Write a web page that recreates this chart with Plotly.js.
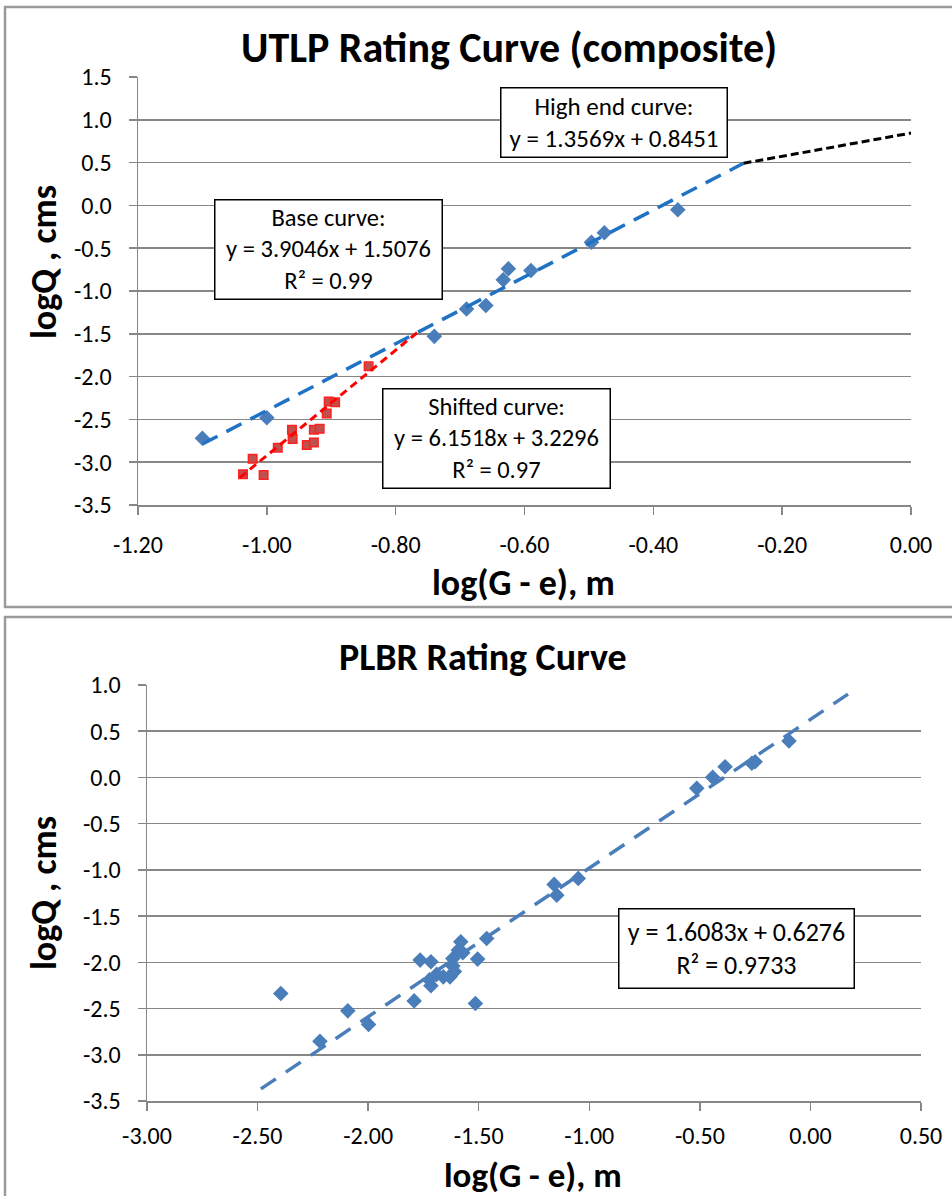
<!DOCTYPE html>
<html>
<head>
<meta charset="utf-8">
<script src="https://cdn.plot.ly/plotly-3.0.1.min.js"></script>
<style>
  html, body { margin: 0; padding: 0; background: #ffffff; }
  #chart { width: 952px; height: 1196px; }
</style>
</head>
<body>
<div id="chart"></div>
<script>
// ---------- UTLP (top chart) ----------
const utlpBaseX  = [-1.10, -1.00, -0.74, -0.69, -0.66, -0.633, -0.625, -0.59, -0.496, -0.476, -0.362];
const utlpBaseY  = [-2.72, -2.48, -1.53, -1.21, -1.17, -0.87, -0.74, -0.76, -0.43, -0.32, -0.05];
const utlpShiftX = [-1.037, -1.022, -1.005, -0.983, -0.961, -0.960, -0.938, -0.927, -0.927, -0.918, -0.907, -0.904, -0.894, -0.842];
const utlpShiftY = [-3.14, -2.96, -3.15, -2.83, -2.62, -2.73, -2.80, -2.77, -2.62, -2.61, -2.43, -2.29, -2.30, -1.88];

// trendline coefficients [slope, intercept] and drawn x-extent
const baseFit   = [3.9046, 1.5076];  const baseSpan  = [-1.10, -0.26];
const shiftFit  = [6.1518, 3.2296];  const shiftSpan = [-1.042, -0.765];
const highFit   = [1.3569, 0.8451];  const highSpan  = [-0.26, 0.0];

// ---------- PLBR (bottom chart) ----------
const plbrX = [-2.395, -2.218, -2.092, -1.998, -1.792, -1.765, -1.716, -1.716, -1.723, -1.690, -1.660, -1.630, -1.610, -1.617, -1.617, -1.592, -1.581, -1.572, -1.505, -1.515, -1.464, -1.159, -1.147, -1.050, -0.514, -0.442, -0.386, -0.265, -0.250, -0.097];
const plbrY = [-2.337, -2.853, -2.525, -2.672, -2.417, -1.976, -1.994, -2.254, -2.19, -2.13, -2.157, -2.157, -2.10, -2.04, -1.958, -1.868, -1.778, -1.897, -1.965, -2.445, -1.742, -1.157, -1.273, -1.092, -0.118, 0.001, 0.116, 0.153, 0.170, 0.394];
const plbrFit  = [1.6083, 0.6276];  const plbrSpan = [-2.485, 0.17];

// tick values
const utlpXTicks = [-1.2, -1.0, -0.8, -0.6, -0.4, -0.2, 0.0];
const utlpYTicks = [1.5, 1.0, 0.5, 0.0, -0.5, -1.0, -1.5, -2.0, -2.5, -3.0, -3.5];
const plbrXTicks = [-3.0, -2.5, -2.0, -1.5, -1.0, -0.5, 0.0, 0.5];
const plbrYTicks = [1.0, 0.5, 0.0, -0.5, -1.0, -1.5, -2.0, -2.5, -3.0, -3.5];

// text
const titleTop = 'UTLP Rating Curve (composite)';
const titleBottom = 'PLBR Rating Curve';
const xTitle = 'log(G - e), m';
const yTitle = 'logQ , cms';
const noteHigh  = 'High end curve:<br>y = 1.3569x + 0.8451';
const noteBase  = 'Base curve:<br>y = 3.9046x + 1.5076<br>R² = 0.99';
const noteShift = 'Shifted curve:<br>y = 6.1518x + 3.2296<br>R² = 0.97';
const notePlbr  = 'y = 1.6083x + 0.6276<br>R² = 0.9733';

// ---------- helpers ----------
const W = 952, H = 1196;
const px = v => v / W;
const py = v => 1 - v / H;
const fmt = d => v => v.toFixed(d);   // plain hyphen minus, as in the original
function fitLine(coef, span) {
  return { x: span.slice(), y: span.map(v => coef[0] * v + coef[1]) };
}
const FONT = 'Carlito, Calibri, Lato, sans-serif';
const GRID = '#878787';

const bl = fitLine(baseFit, baseSpan);
const sl = fitLine(shiftFit, shiftSpan);
const hl = fitLine(highFit, highSpan);
const pl = fitLine(plbrFit, plbrSpan);

const traces = [
  { x: utlpBaseX, y: utlpBaseY, type: 'scatter', mode: 'markers', xaxis: 'x', yaxis: 'y',
    marker: { symbol: 'diamond', size: 12, color: '#4a7ebb', line: { width: 0 } } },
  { x: utlpShiftX, y: utlpShiftY, type: 'scatter', mode: 'markers', xaxis: 'x', yaxis: 'y',
    marker: { symbol: 'square', size: 8.5, color: '#c0504d', line: { width: 1.5, color: '#ff2020' } } },
  { x: bl.x, y: bl.y, type: 'scatter', mode: 'lines', xaxis: 'x', yaxis: 'y',
    line: { color: '#1f72c4', width: 3.5, dash: '17px,10px' } },
  { x: sl.x, y: sl.y, type: 'scatter', mode: 'lines', xaxis: 'x', yaxis: 'y',
    line: { color: '#ff0000', width: 3, dash: '8px,5px' } },
  { x: hl.x, y: hl.y, type: 'scatter', mode: 'lines', xaxis: 'x', yaxis: 'y',
    line: { color: '#000000', width: 3, dash: '8px,4px' } },
  { x: plbrX, y: plbrY, type: 'scatter', mode: 'markers', xaxis: 'x2', yaxis: 'y2',
    marker: { symbol: 'diamond', size: 12, color: '#4a7ebb', line: { width: 0 } } },
  { x: pl.x, y: pl.y, type: 'scatter', mode: 'lines', xaxis: 'x2', yaxis: 'y2',
    line: { color: '#4a7ebb', width: 3.5, dash: '18px,12px' } }
];

const axisCommon = {
  showline: true, linecolor: GRID, linewidth: 1.5,
  ticks: 'outside', ticklen: 8, tickcolor: GRID, tickwidth: 1.5,
  tickfont: { family: FONT, size: 24, color: '#000' },
  zeroline: false, fixedrange: true
};

const layout = {
  width: W, height: H,
  margin: { l: 0, r: 0, t: 0, b: 0 },
  paper_bgcolor: '#ffffff', plot_bgcolor: '#ffffff',
  showlegend: false,
  xaxis: Object.assign({}, axisCommon, {
    domain: [px(138), px(911)], anchor: 'y', range: [-1.2, 0],
    tickvals: utlpXTicks, ticktext: utlpXTicks.map(fmt(2)), showgrid: false, ticklabelstandoff: 10
  }),
  yaxis: Object.assign({}, axisCommon, {
    domain: [py(505), py(77)], anchor: 'x', range: [-3.5, 1.5],
    tickvals: utlpYTicks, ticktext: utlpYTicks.map(fmt(1)), showgrid: true, gridcolor: GRID, gridwidth: 1.5,
    ticklabelstandoff: 12
  }),
  xaxis2: Object.assign({}, axisCommon, {
    domain: [px(147), px(921)], anchor: 'y2', range: [-3.0, 0.5],
    tickvals: plbrXTicks, ticktext: plbrXTicks.map(fmt(2)), showgrid: false, ticklabelstandoff: 5
  }),
  yaxis2: Object.assign({}, axisCommon, {
    domain: [py(1101), py(685)], anchor: 'x2', range: [-3.5, 1.0],
    tickvals: plbrYTicks, ticktext: plbrYTicks.map(fmt(1)), showgrid: true, gridcolor: GRID, gridwidth: 1.5,
    ticklabelstandoff: 12
  }),
  shapes: [
    { type: 'rect', xref: 'paper', yref: 'paper', x0: px(5), x1: px(980), y0: py(607), y1: py(7),
      line: { color: '#9a9a9a', width: 2.5 }, fillcolor: 'rgba(0,0,0,0)', layer: 'below' },
    { type: 'rect', xref: 'paper', yref: 'paper', x0: px(5), x1: px(980), y0: py(1230), y1: py(617),
      line: { color: '#9a9a9a', width: 2.5 }, fillcolor: 'rgba(0,0,0,0)', layer: 'below' }
  ],
  annotations: [
    { text: '<b>' + titleTop + '</b>', xref: 'paper', yref: 'paper', x: px(509), y: py(47),
      showarrow: false, xanchor: 'center', yanchor: 'middle', font: { family: FONT, size: 42, color: '#000' } },
    { text: '<b>' + titleBottom + '</b>', xref: 'paper', yref: 'paper', x: px(483), y: py(657),
      showarrow: false, xanchor: 'center', yanchor: 'middle', font: { family: FONT, size: 38, color: '#000' } },
    { text: '<b>' + xTitle + '</b>', xref: 'paper', yref: 'paper', x: px(523), y: py(583),
      showarrow: false, xanchor: 'center', yanchor: 'middle', font: { family: FONT, size: 36, color: '#000' } },
    { text: '<b>' + xTitle + '</b>', xref: 'paper', yref: 'paper', x: px(533), y: py(1175),
      showarrow: false, xanchor: 'center', yanchor: 'middle', font: { family: FONT, size: 35, color: '#000' } },
    { text: '<b>' + yTitle + '</b>', xref: 'paper', yref: 'paper', x: px(44), y: py(262), textangle: -90,
      showarrow: false, xanchor: 'center', yanchor: 'middle', font: { family: FONT, size: 36, color: '#000' } },
    { text: '<b>' + yTitle + '</b>', xref: 'paper', yref: 'paper', x: px(44), y: py(893), textangle: -90,
      showarrow: false, xanchor: 'center', yanchor: 'middle', font: { family: FONT, size: 36, color: '#000' } },
    { text: noteHigh, xref: 'paper', yref: 'paper', x: px(613.5), y: py(122), width: 225, height: 68,
      showarrow: false, xanchor: 'center', yanchor: 'middle', align: 'center',
      bgcolor: '#ffffff', bordercolor: '#000', borderwidth: 1.5, borderpad: 0,
      font: { family: FONT, size: 25, color: '#000' } },
    { text: noteBase, xref: 'paper', yref: 'paper', x: px(328), y: py(250), width: 226, height: 98,
      showarrow: false, xanchor: 'center', yanchor: 'middle', align: 'center',
      bgcolor: '#ffffff', bordercolor: '#000', borderwidth: 1.5, borderpad: 0,
      font: { family: FONT, size: 24.5, color: '#000' } },
    { text: noteShift, xref: 'paper', yref: 'paper', x: px(496), y: py(439), width: 226, height: 98,
      showarrow: false, xanchor: 'center', yanchor: 'middle', align: 'center',
      bgcolor: '#ffffff', bordercolor: '#000', borderwidth: 1.5, borderpad: 0,
      font: { family: FONT, size: 24.5, color: '#000' } },
    { text: notePlbr, xref: 'paper', yref: 'paper', x: px(736), y: py(948), width: 234, height: 78,
      showarrow: false, xanchor: 'center', yanchor: 'middle', align: 'center',
      bgcolor: '#ffffff', bordercolor: '#000', borderwidth: 1.5, borderpad: 0,
      font: { family: FONT, size: 26, color: '#000' } }
  ]
};

Plotly.newPlot('chart', traces, layout, { displayModeBar: false, staticPlot: true });
</script>
</body>
</html>
